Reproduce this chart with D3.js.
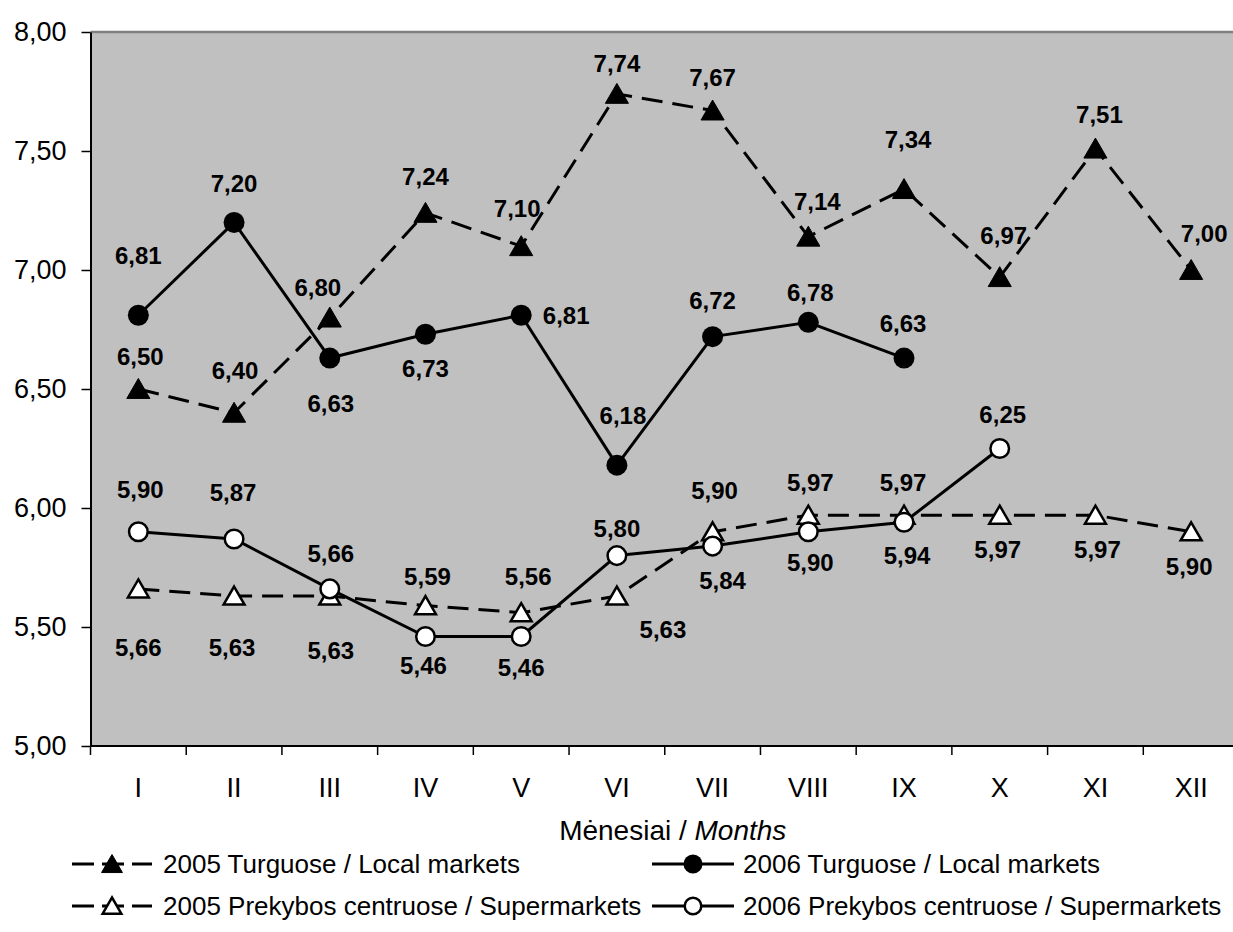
<!DOCTYPE html>
<html>
<head>
<meta charset="utf-8">
<script src="https://cdn.jsdelivr.net/npm/d3@7"></script>
<style>
  html, body { margin: 0; padding: 0; background: #ffffff; }
  svg { display: block; }
  text { font-family: "Liberation Sans", Arial, sans-serif; }
</style>
</head>
<body>
<svg id="chart" width="1233" height="932"></svg>
<script>
// ---------- data ----------
const months = ["I", "II", "III", "IV", "V", "VI", "VII", "VIII", "IX", "X", "XI", "XII"];
const turg2005 = [6.50, 6.40, 6.80, 7.24, 7.10, 7.74, 7.67, 7.14, 7.34, 6.97, 7.51, 7.00];
const turg2006 = [6.81, 7.20, 6.63, 6.73, 6.81, 6.18, 6.72, 6.78, 6.63];
const prek2005 = [5.66, 5.63, 5.63, 5.59, 5.56, 5.63, 5.90, 5.97, 5.97, 5.97, 5.97, 5.90];
const prek2006 = [5.90, 5.87, 5.66, 5.46, 5.46, 5.80, 5.84, 5.90, 5.94, 6.25];
const yTicks = [5.00, 5.50, 6.00, 6.50, 7.00, 7.50, 8.00];
const seriesNames = [
  "2005 Turguose / Local markets",
  "2006 Turguose / Local markets",
  "2005 Prekybos centruose / Supermarkets",
  "2006 Prekybos centruose / Supermarkets"
];
const axisTitleMain = "Mėnesiai / ";
const axisTitleItalic = "Months";

// ---------- label nudges (layout, kept apart from the data) ----------
const nudgeT5 = [[2,-33],[1,-42],[-12,-30],[0,-37],[-4,-38],[0,-31],[0,-33],[9,-35],[4,-50],[4,-42],[4,-34],[13,-37]];
const nudgeT6 = [[0,-60],[0,-39],[1,45],[0,34],[45,0],[6,-50],[0,-36],[2,-30],[-1,-35]];
const nudgeP5 = [[0,58],[-2,51],[1,54],[2,-29],[7,-36],[46,33],[2,-41],[2,-33],[-1,-33],[-2,34],[2,34],[-2,35]];
const nudgeP6 = [[2,-42],[-1,-47],[1,-36],[-2,29],[0,31],[0,-27],[10,34],[2,31],[3,33],[3,-34]];

// ---------- layout ----------
const svg = d3.select("#chart");
const plotL = 90.5, plotR = 1239, plotT = 32, plotB = 746;

const x = d3.scaleBand().domain(months).range([plotL, plotR]).padding(0);
const y = d3.scaleLinear().domain([5, 8]).range([plotB, plotT]);
const cx = m => x(m) + x.bandwidth() / 2;
const fmt = v => v.toFixed(2).replace(".", ",");

// plot background
svg.append("rect")
  .attr("x", plotL).attr("y", plotT)
  .attr("width", plotR - plotL).attr("height", plotB - plotT)
  .attr("fill", "#c0c0c0");
svg.append("line")
  .attr("x1", plotL).attr("x2", plotR).attr("y1", plotT).attr("y2", plotT)
  .attr("stroke", "#808080").attr("stroke-width", 2.5);

// y axis
const yAxis = svg.append("g").attr("transform", `translate(${plotL},0)`)
  .call(d3.axisLeft(y).tickValues(yTicks).tickSize(9).tickSizeOuter(0).tickPadding(15).tickFormat(fmt));
yAxis.select(".domain").attr("stroke", "#000").attr("stroke-width", 2);
yAxis.selectAll(".tick line").attr("stroke", "#000").attr("stroke-width", 1.5);
yAxis.selectAll("text").attr("font-size", 27).attr("fill", "#000")
  .style("font-family", "'Liberation Sans', Arial, sans-serif");

// x axis (labels)
const xAxis = svg.append("g").attr("transform", `translate(0,${plotB})`)
  .call(d3.axisBottom(x).tickSize(0).tickPadding(32));
xAxis.select(".domain").remove();
xAxis.selectAll("text").attr("font-size", 27).attr("fill", "#000")
  .attr("dy", null).attr("y", 51)
  .style("font-family", "'Liberation Sans', Arial, sans-serif");
svg.append("line")
  .attr("x1", plotL).attr("x2", plotR).attr("y1", plotB).attr("y2", plotB)
  .attr("stroke", "#000").attr("stroke-width", 2);
const bounds = months.map(m => x(m)).concat([x(months[months.length - 1]) + x.bandwidth()]);
svg.append("g").selectAll("line").data(bounds).join("line")
  .attr("x1", d => d).attr("x2", d => d)
  .attr("y1", plotB).attr("y2", plotB + 9)
  .attr("stroke", "#000").attr("stroke-width", 1.5);

// axis title
const title = svg.append("text")
  .attr("x", (plotL + plotR) / 2 + 8).attr("y", 840)
  .attr("text-anchor", "middle").attr("font-size", 28).attr("fill", "#000");
title.append("tspan").text(axisTitleMain);
title.append("tspan").attr("font-style", "italic").text(axisTitleItalic);

// ---------- series ----------
const triPath = s => `M0,${-s * 0.5} L${s * 0.55},${s * 0.45} L${-s * 0.55},${s * 0.45} Z`;

function drawMarker(g, kind, px, py, size) {
  if (kind === "triFilled") {
    g.append("path").attr("d", triPath(size)).attr("transform", `translate(${px},${py})`)
      .attr("fill", "#000").attr("stroke", "#000").attr("stroke-width", 1);
  } else if (kind === "triOpen") {
    g.append("path").attr("d", triPath(size - 2)).attr("transform", `translate(${px},${py})`)
      .attr("fill", "#fff").attr("stroke", "#000").attr("stroke-width", 2.5).attr("stroke-linejoin", "miter");
  } else if (kind === "circFilled") {
    g.append("circle").attr("cx", px).attr("cy", py).attr("r", size / 2)
      .attr("fill", "#000");
  } else {
    g.append("circle").attr("cx", px).attr("cy", py).attr("r", size / 2 - 1.2)
      .attr("fill", "#fff").attr("stroke", "#000").attr("stroke-width", 2.5);
  }
}

const series = [
  { name: seriesNames[0], values: turg2005, dash: "21,10", marker: "triFilled", nudge: nudgeT5 },
  { name: seriesNames[1], values: turg2006, dash: null, marker: "circFilled", nudge: nudgeT6 },
  { name: seriesNames[2], values: prek2005, dash: "21,10", marker: "triOpen", nudge: nudgeP5 },
  { name: seriesNames[3], values: prek2006, dash: null, marker: "circOpen", nudge: nudgeP6 }
];

const lineGen = d3.line().x(d => cx(d.m)).y(d => y(d.v));

series.forEach(s => {
  const pts = s.values.map((v, i) => ({ m: months[i], v }));
  const g = svg.append("g");
  g.append("path").datum(pts).attr("d", lineGen)
    .attr("fill", "none").attr("stroke", "#000").attr("stroke-width", 3)
    .attr("stroke-dasharray", s.dash).attr("stroke-linejoin", "round");
  pts.forEach(p => drawMarker(g, s.marker, cx(p.m), y(p.v), 21));
});

// data labels
series.forEach(s => {
  svg.append("g").selectAll("text").data(s.values).join("text")
    .attr("x", (v, i) => cx(months[i]) + s.nudge[i][0])
    .attr("y", (v, i) => y(v) + s.nudge[i][1])
    .attr("dy", "0.36em")
    .attr("text-anchor", "middle")
    .attr("font-size", 24).attr("font-weight", "bold").attr("fill", "#000")
    .text(fmt);
});

// ---------- legend ----------
const legendItems = [
  { s: series[0], lx1: 72, lx2: 152, mx: 112, tx: 163, ry: 864 },
  { s: series[1], lx1: 652, lx2: 734, mx: 693, tx: 743, ry: 864 },
  { s: series[2], lx1: 72, lx2: 152, mx: 112, tx: 163, ry: 906 },
  { s: series[3], lx1: 652, lx2: 734, mx: 693, tx: 743, ry: 906 }
];
const lg = svg.append("g");
legendItems.forEach(it => {
  lg.append("line").attr("x1", it.lx1).attr("x2", it.lx2).attr("y1", it.ry).attr("y2", it.ry)
    .attr("stroke", "#000").attr("stroke-width", 3)
    .attr("stroke-dasharray", it.s.dash ? "22,8" : null);
  drawMarker(lg, it.s.marker, it.mx, it.ry, 19);
  lg.append("text").attr("x", it.tx).attr("y", it.ry).attr("dy", "0.35em")
    .attr("font-size", 26).attr("fill", "#000").text(it.s.name);
});
</script>
</body>
</html>
